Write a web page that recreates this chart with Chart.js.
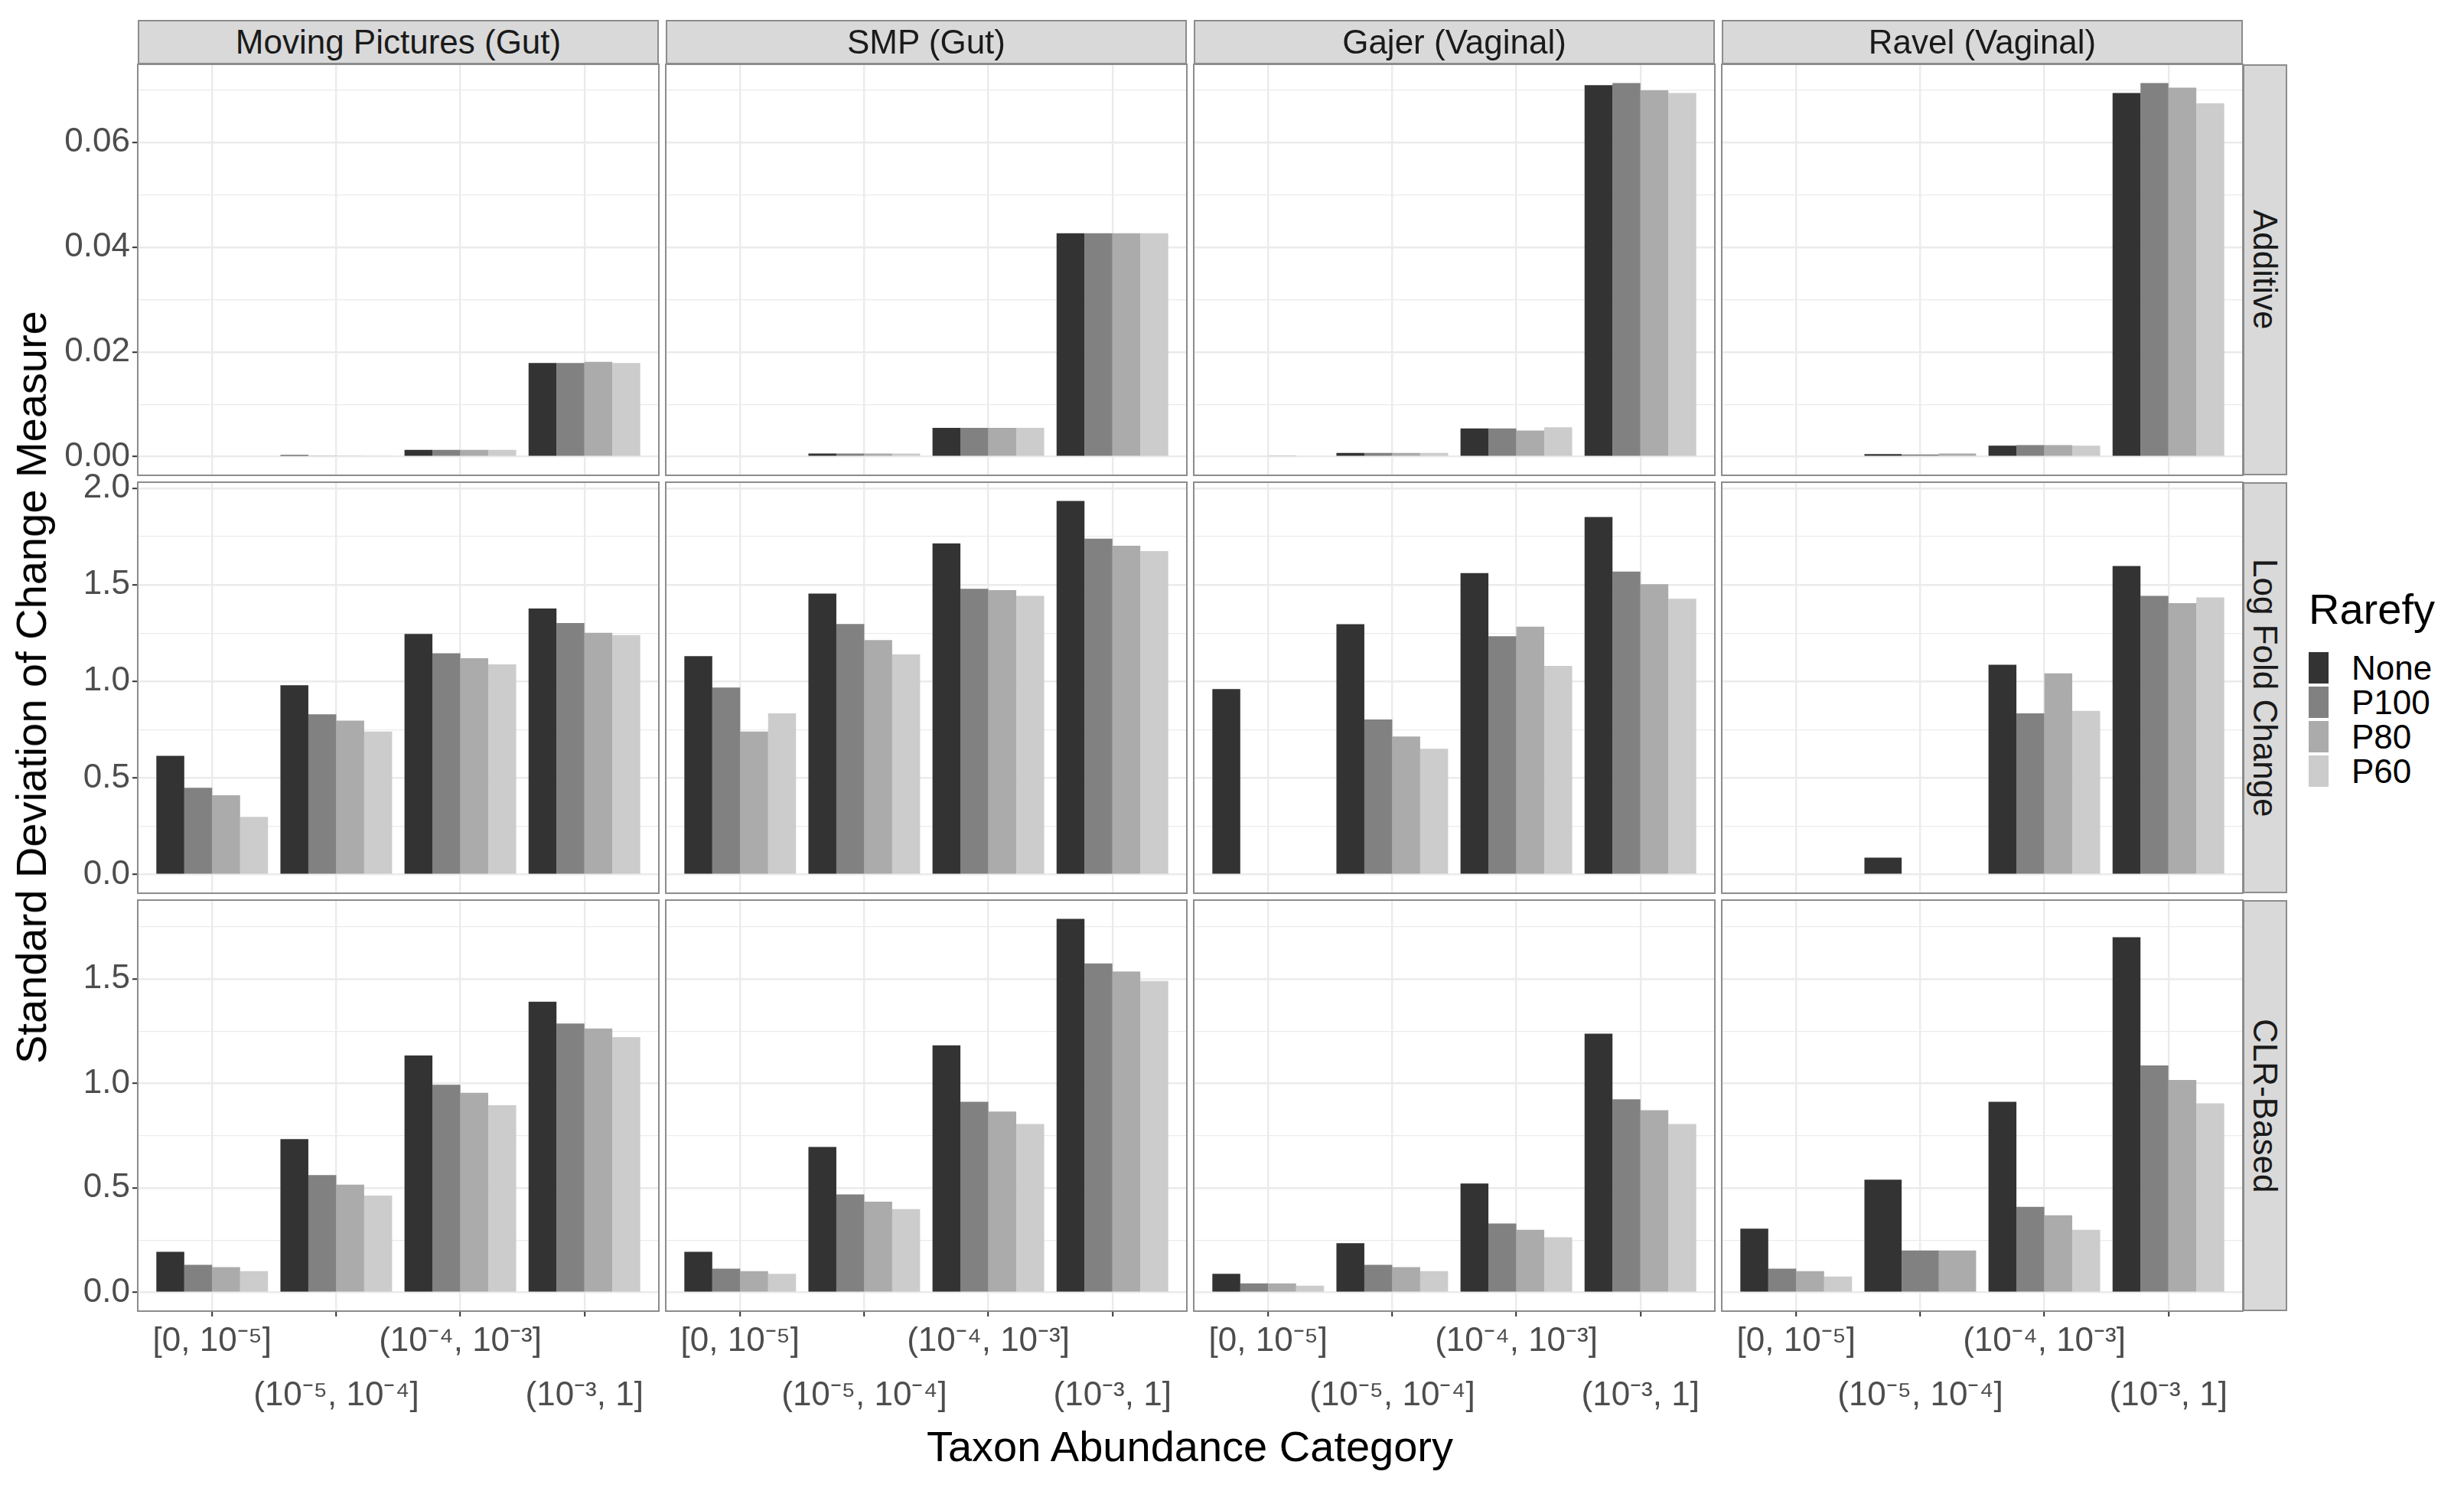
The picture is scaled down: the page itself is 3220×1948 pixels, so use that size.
<!DOCTYPE html>
<html lang="en">

<head>
    <meta charset="UTF-8">
    <title>Standard Deviation of Change Measure</title>
    <style>
        body {
            margin: 0;
            background: #fff;
            font-family: 'Liberation Sans', Arial, sans-serif;
        }

        #fig {
            position: relative;
            width: 3220px;
            height: 1948px;
            overflow: hidden;
        }

        canvas {
            position: absolute;
        }

        .strip {
            position: absolute;
            box-sizing: border-box;
            background: #d9d9d9;
            border: 2px solid #8c8c8c;
            color: #1a1a1a;
            font-size: 44px;
            display: flex;
            align-items: center;
            justify-content: center;
            white-space: nowrap;
        }

        .strip.side span {
            writing-mode: vertical-rl;
        }

        .title {
            position: absolute;
            font-size: 56px;
            color: #000;
            white-space: nowrap;
            line-height: 56px;
        }

        .key {
            position: absolute;
            width: 26px;
            height: 41px;
        }

        .keylabel {
            position: absolute;
            font-size: 44px;
            line-height: 44px;
            color: #000;
        }
    </style>
    <script src="https://cdn.jsdelivr.net/npm/chart.js"></script>
</head>

<body>
    <div id="fig"></div>

    <script>
        // categories / facets
        const categories = ['[0, 10⁻⁵]', '(10⁻⁵, 10⁻⁴]', '(10⁻⁴, 10⁻³]', '(10⁻³, 1]'];
        const studies = ['Moving Pictures (Gut)', 'SMP (Gut)', 'Gajer (Vaginal)', 'Ravel (Vaginal)'];
        const measures = ['Additive', 'Log Fold Change', 'CLR-Based'];
        const rarefy = ['None', 'P100', 'P80', 'P60'];
        const fills = ['#333333', '#818181', '#ababab', '#cccccc'];

        // y tick labels per row
        const additiveTicks = [0, 0.02, 0.04, 0.06];
        const lfcTicks = [0, 0.5, 1.0, 1.5, 2.0];
        const clrTicks = [0, 0.5, 1.0, 1.5];

        // rows: None, P100, P80, P60 ; columns: the 4 abundance categories
        const additiveMP = [
            [0, 0.0003, 0.0013, 0.0179],
            [0, 0.0002, 0.0013, 0.0179],
            [0, 0.0002, 0.0013, 0.0181],
            [0, 0.0002, 0.0013, 0.0179]
        ];
        const additiveSMP = [
            [0, 0.0006, 0.0055, 0.0427],
            [0, 0.0006, 0.0055, 0.0427],
            [0, 0.0006, 0.0055, 0.0427],
            [0, 0.0006, 0.0055, 0.0427]
        ];
        const additiveGajer = [
            [0, 0.0007, 0.0054, 0.0710],
            [0, 0.0007, 0.0054, 0.0714],
            [0.0001, 0.0007, 0.0050, 0.0700],
            [0, 0.0007, 0.0056, 0.0695]
        ];
        const additiveRavel = [
            [0, 0.0005, 0.0021, 0.0695],
            [0, 0.0004, 0.0022, 0.0714],
            [0, 0.0006, 0.0022, 0.0705],
            [0, null, 0.0021, 0.0675]
        ];

        const lfcMP = [
            [0.615, 0.980, 1.246, 1.378],
            [0.449, 0.830, 1.146, 1.302],
            [0.411, 0.797, 1.120, 1.252],
            [0.299, 0.741, 1.088, 1.240]
        ];
        const lfcSMP = [
            [1.131, 1.455, 1.715, 1.935],
            [0.968, 1.297, 1.480, 1.739],
            [0.741, 1.214, 1.473, 1.703],
            [0.835, 1.140, 1.443, 1.675]
        ];
        const lfcGajer = [
            [0.961, 1.296, 1.561, 1.851],
            [0, 0.803, 1.234, 1.569],
            [0, 0.715, 1.284, 1.504],
            [0, 0.651, 1.080, 1.428]
        ];
        const lfcRavel = [
            [0, 0.088, 1.086, 1.598],
            [0, 0, 0.835, 1.443],
            [0, 0, 1.042, 1.405],
            [0, null, 0.848, 1.435]
        ];

        const clrMP = [
            [0.194, 0.734, 1.134, 1.391],
            [0.132, 0.562, 0.994, 1.287],
            [0.121, 0.516, 0.955, 1.263],
            [0.102, 0.464, 0.896, 1.222]
        ];
        const clrSMP = [
            [0.194, 0.696, 1.182, 1.788],
            [0.114, 0.469, 0.912, 1.574],
            [0.102, 0.434, 0.866, 1.536],
            [0.089, 0.399, 0.806, 1.490]
        ];
        const clrGajer = [
            [0.089, 0.236, 0.521, 1.238],
            [0.043, 0.132, 0.330, 0.924],
            [0.043, 0.121, 0.300, 0.872],
            [0.032, 0.102, 0.264, 0.806]
        ];
        const clrRavel = [
            [0.305, 0.540, 0.912, 1.700],
            [0.114, 0.201, 0.410, 1.086],
            [0.102, 0.201, 0.369, 1.017],
            [0.076, null, 0.300, 0.905]
        ];

        const grid = [
            [additiveMP, additiveSMP, additiveGajer, additiveRavel],
            [lfcMP, lfcSMP, lfcGajer, lfcRavel],
            [clrMP, clrSMP, clrGajer, clrRavel]
        ];
        const rowTicks = [additiveTicks, lfcTicks, clrTicks];
        const rowDigits = [2, 1, 1];

        // layout
        const colLeft = [180, 870, 1560, 2250];
        const rowTop = [84, 630, 1176];
        const panelW = 681, panelH = 537;
        const M = 30, YW = 150, XH = 150;

        Chart.defaults.font.family = "'Liberation Sans', Arial, sans-serif";

        const fig = document.getElementById('fig');

        const panelBorder = {
            id: 'panelBorder',
            afterDraw(chart) {
                const a = chart.chartArea;
                const ctx = chart.ctx;
                ctx.save();
                ctx.strokeStyle = '#8c8c8c';
                ctx.lineWidth = 2;
                ctx.strokeRect(a.left, a.top, a.right - a.left, a.bottom - a.top);
                ctx.restore();
            }
        };

        function addDiv(cls, text, style) {
            const d = document.createElement('div');
            d.className = cls;
            if (text !== null) d.innerHTML = text;
            Object.assign(d.style, style);
            fig.appendChild(d);
            return d;
        }

        for (let r = 0; r < 3; r++) {
            const maxVal = Math.max(...grid[r].flat(2).filter(v => v !== null));
            const yMin = -0.05 * maxVal, yMax = 1.05 * maxVal;
            const major = rowTicks[r];
            const step = major[1] - major[0];
            const allTicks = [];
            for (let k = 0; major[0] + k * step / 2 <= yMax; k++) allTicks.push(major[0] + k * step / 2);
            const isMajor = v => Math.abs(v / step - Math.round(v / step)) < 1e-6;

            for (let c = 0; c < 4; c++) {
                const cv = document.createElement('canvas');
                const w = panelW + 2 * M + (c === 0 ? YW : 0);
                const h = panelH + 2 * M + (r === 2 ? XH : 0);
                cv.width = w;
                cv.height = h;
                cv.style.left = (colLeft[c] - M - (c === 0 ? YW : 0)) + 'px';
                cv.style.top = (rowTop[r] - M) + 'px';
                fig.appendChild(cv);

                const values = grid[r][c];
                new Chart(cv, {
                    type: 'bar',
                    data: {
                        datasets: rarefy.map((name, i) => ({
                            label: name,
                            data: values[i].map((v, j) => ({ x: j, y: v })),
                            backgroundColor: fills[i],
                            borderWidth: 0,
                            skipNull: true,
                            categoryPercentage: 0.9,
                            barPercentage: 1.0
                        }))
                    },
                    options: {
                        responsive: false,
                        animation: false,
                        layout: { padding: { left: M, right: M, top: M, bottom: M } },
                        plugins: { legend: { display: false }, tooltip: { enabled: false } },
                        scales: {
                            x: {
                                type: 'linear',
                                min: -0.6,
                                max: 3.6,
                                offset: false,
                                afterBuildTicks: s => { s.ticks = categories.map((_, j) => ({ value: j })); },
                                afterFit: s => {
                                    s.height = r === 2 ? XH : 0;
                                    s.paddingLeft = 0; s.paddingRight = 0;
                                },
                                grid: {
                                    offset: false,
                                    color: '#ebebeb',
                                    lineWidth: 2.4,
                                    drawTicks: r === 2,
                                    tickLength: 7,
                                    tickColor: '#333333',
                                    tickWidth: 2
                                },
                                border: { display: false },
                                ticks: {
                                    display: r === 2,
                                    color: '#4d4d4d',
                                    font: { size: 44, lineHeight: 1.6 },
                                    padding: -2,
                                    maxRotation: 0,
                                    minRotation: 0,
                                    autoSkip: false,
                                    callback: v => {
                                        const j = Math.round(v);
                                        return j % 2 === 0 ? [categories[j], ''] : ['', categories[j]];
                                    }
                                }
                            },
                            y: {
                                type: 'linear',
                                min: yMin,
                                max: yMax,
                                afterBuildTicks: s => { s.ticks = allTicks.map(v => ({ value: v })); },
                                afterFit: s => {
                                    s.width = c === 0 ? YW : 0;
                                    s.paddingTop = 0; s.paddingBottom = 0;
                                },
                                grid: {
                                    color: '#ebebeb',
                                    lineWidth: ctx => isMajor(ctx.tick.value) ? 2.4 : 1.2,
                                    drawTicks: c === 0,
                                    tickLength: 7,
                                    tickWidth: 2,
                                    tickColor: ctx => isMajor(ctx.tick.value) ? '#333333' : 'rgba(0,0,0,0)'
                                },
                                border: { display: false },
                                ticks: {
                                    display: c === 0,
                                    color: '#4d4d4d',
                                    font: { size: 44 },
                                    padding: 3,
                                    callback: v => isMajor(v) ? v.toFixed(rowDigits[r]) : ''
                                }
                            }
                        }
                    },
                    plugins: [panelBorder]
                });
            }

            // facet strip on the right
            addDiv('strip side', '<span>' + measures[r] + '</span>', {
                left: (colLeft[3] + panelW) + 'px', top: rowTop[r] + 'px',
                width: '58px', height: panelH + 'px'
            });
        }

        // facet strips on top
        studies.forEach((s, c) => {
            addDiv('strip', s, {
                left: colLeft[c] + 'px', top: '26px',
                width: panelW + 'px', height: '58px'
            });
        });

        // axis titles
        const yt = addDiv('title', 'Standard Deviation of Change Measure', { left: '41px', top: '898px' });
        yt.style.transform = 'translate(-50%, -50%) rotate(-90deg)';
        const xt = addDiv('title', 'Taxon Abundance Category', { left: '1555px', top: '1890px' });
        xt.style.transform = 'translate(-50%, -50%)';

        // legend
        addDiv('title', 'Rarefy', { left: '3017px', top: '768px' });
        rarefy.forEach((name, i) => {
            addDiv('key', null, { left: '3017px', top: (852 + i * 45) + 'px', background: fills[i] });
            addDiv('keylabel', name, { left: '3073px', top: (852 + i * 45 - 1) + 'px' });
        });
    </script>
</body>

</html>
